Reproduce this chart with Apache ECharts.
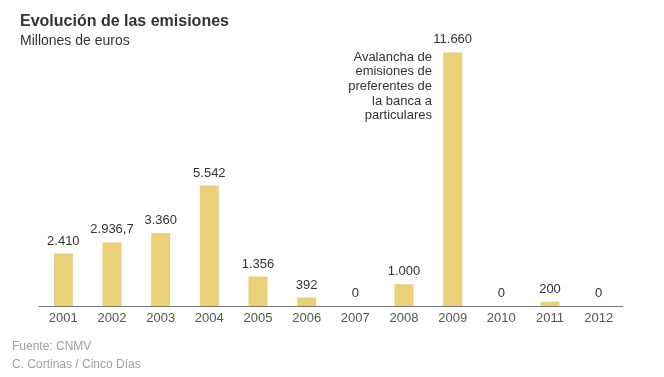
<!DOCTYPE html>
<html>
<head>
<meta charset="utf-8">
<script src="https://cdn.jsdelivr.net/npm/echarts@6/dist/echarts.min.js"></script>
<style>
  html, body { margin: 0; padding: 0; background: #fff; }
  #chart { width: 664px; height: 377px; }
</style>
</head>
<body>
<div id="chart"></div>
<script>
var years = ['2001', '2002', '2003', '2004', '2005', '2006', '2007', '2008', '2009', '2010', '2011', '2012'];
var emisiones = [2410, 2936.7, 3360, 5542, 1356, 392, 0, 1000, 11660, 0, 200, 0];
var etiquetas = ['2.410', '2.936,7', '3.360', '5.542', '1.356', '392', '0', '1.000', '11.660', '0', '200', '0'];
var nota = 'Avalancha de\nemisiones de\npreferentes de\nla banca a\nparticulares';

var font = '"Liberation Sans", Arial, sans-serif';
var myChart = echarts.init(document.getElementById('chart'));
var option = {
    animation: false,
    textStyle: { fontFamily: font },
    title: [{
        text: 'Evolución de las emisiones',
        left: 15, top: 9,
        textStyle: { fontSize: 16, fontWeight: 'bold', color: '#333', fontFamily: font }
    }, {
        text: 'Millones de euros',
        left: 15, top: 29,
        textStyle: { fontSize: 14, fontWeight: 'normal', color: '#333', fontFamily: font }
    }, {
        text: 'Fuente: CNMV',
        left: 7, top: 336,
        textStyle: { fontSize: 12, fontWeight: 'normal', color: '#a0a0a0', fontFamily: font }
    }, {
        text: 'C. Cortinas / Cinco Días',
        left: 7, top: 354,
        textStyle: { fontSize: 12, fontWeight: 'normal', color: '#a0a0a0', fontFamily: font }
    }],
    graphic: [{
        type: 'text',
        x: 432, y: 50,
        style: {
            text: nota,
            align: 'right',
            verticalAlign: 'top',
            fontSize: 13,
            lineHeight: 14.6,
            fill: '#333',
            fontFamily: font
        }
    }],
    grid: { left: 39, right: 41, top: 45, bottom: 71 },
    xAxis: {
        type: 'category',
        data: years,
        axisTick: { show: false },
        axisLine: { lineStyle: { color: '#777', width: 1 } },
        axisLabel: { color: '#555', fontSize: 13, margin: 6, fontFamily: font }
    },
    yAxis: {
        type: 'value',
        min: 0, max: 12000,
        show: false,
        splitLine: { show: false }
    },
    series: [{
        type: 'bar',
        data: emisiones,
        barWidth: 19,
        itemStyle: { color: '#EBD07A' },
        label: {
            show: true,
            position: 'top',
            distance: 6,
            color: '#333',
            fontSize: 13,
            fontFamily: font,
            formatter: function (p) { return etiquetas[p.dataIndex]; }
        }
    }]
};
myChart.setOption(option);
</script>
</body>
</html>
